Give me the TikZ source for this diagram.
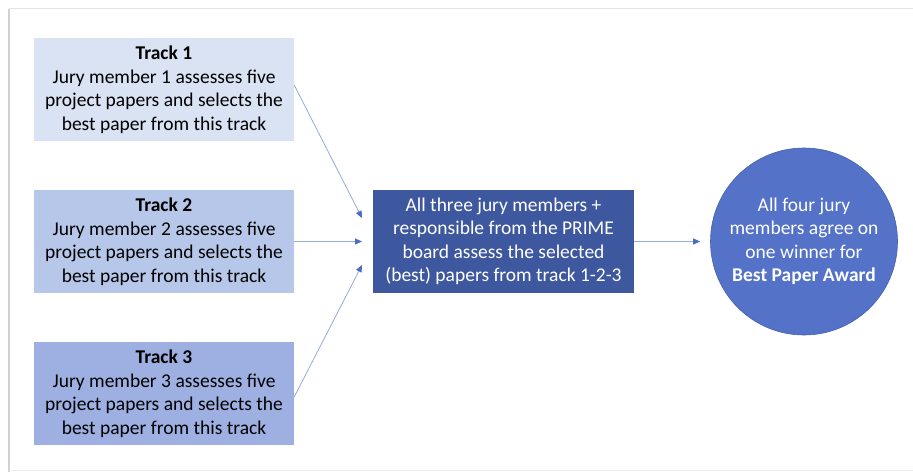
\documentclass[tikz,border=0pt]{standalone}
\usepackage{fontspec}
\setmainfont{Carlito}
\usetikzlibrary{arrows.meta}

\definecolor{trackA}{HTML}{DAE3F3}
\definecolor{trackB}{HTML}{B6C7E9}
\definecolor{trackC}{HTML}{9DB0E1}
\definecolor{boardblue}{HTML}{3E589F}
\definecolor{awardblue}{HTML}{5372C8}
\definecolor{linkblue}{HTML}{92AADF}
\definecolor{tipblue}{HTML}{4A6CC4}

\tikzset{
  trackbox/.style={rectangle, minimum width=260pt, minimum height=103pt, inner sep=0pt, align=center, text=black, font=\fontsize{19.5}{23.5}\selectfont},
  link/.style={draw=linkblue, line width=0.8pt, -{Triangle[length=7pt, width=6pt, fill=tipblue, color=tipblue]}}
}

\begin{document}
\begin{tikzpicture}[x=1pt, y=-1pt]
\useasboundingbox (0,0) rectangle (913,473);
% page frame
\draw [gray!35, line width=2pt] (9,472) -- (9,9);
\draw [gray!20, line width=1pt] (9,9) -- (913,9);
\draw [gray!15, line width=1pt] (9,470) -- (913,470);
\node (t1) [trackbox, fill=trackA] at (164, 89.5) {\textbf{Track 1}\\Jury member 1 assesses five\\project papers and selects the\\best paper from this track};
\node (t2) [trackbox, fill=trackB] at (164, 241.5) {\textbf{Track 2}\\Jury member 2 assesses five\\project papers and selects the\\best paper from this track};
\node (t3) [trackbox, fill=trackC] at (164, 393.5) {\textbf{Track 3}\\Jury member 3 assesses five\\project papers and selects the\\best paper from this track};
\node (board) [trackbox, fill=boardblue, text=white, minimum width=261pt] at (503.5, 241.5) {All three jury members +\\responsible from the PRIME\\board assess the selected\\(best) papers from track 1-2-3};
\node (award) [circle, minimum size=187pt, inner sep=0pt, fill=awardblue, draw=awardblue!85!black, line width=0.6pt, text=white, align=center, font=\fontsize{19.5}{23.5}\selectfont] at (804, 241.5) {All four jury\\members agree on\\one winner for\\\textbf{Best Paper Award}};
\coordinate (in1) at (362, 218);
\coordinate (in2) at (362, 241.5);
\coordinate (in3) at (362, 265);
\draw [link] (t1.east |- 0,85) -- (in1);
\draw [link] (t2.east) -- (in2);
\draw [link] (t3.east |- 0,397) -- (in3);
\draw [link] (board.east) -- ([xshift=-10pt]award.west);
\end{tikzpicture}
\end{document}
